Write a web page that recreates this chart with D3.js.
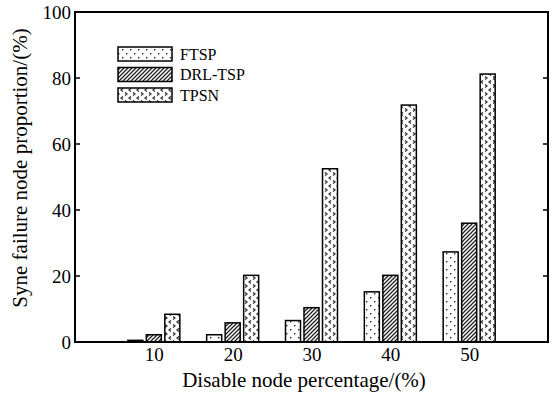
<!DOCTYPE html>
<html><head><meta charset="utf-8">
<script src="https://cdn.jsdelivr.net/npm/d3@7"></script>
<style>body{margin:0;background:#fff}svg{display:block}text{font-family:"Liberation Serif","Times New Roman",serif;fill:#000}</style>
</head><body><svg id="c" width="559" height="395"></svg>
<script>
const categories = [10, 20, 30, 40, 50];
const seriesNames = ["FTSP", "DRL-TSP", "TPSN"];
const ftsp = [0.5, 2.2, 6.5, 15.2, 27.3];
const drlTsp = [2.2, 5.8, 10.4, 20.2, 36.0];
const tpsn = [8.4, 20.2, 52.5, 71.8, 81.2];
const yTicks = [0, 20, 40, 60, 80, 100];
const xTicks = [10, 20, 30, 40, 50];
const seriesValues = [ftsp, drlTsp, tpsn];

const svg = d3.select("#c");
const m = {l: 75, t: 12, r: 548, b: 342};
const x = d3.scaleLinear().domain([0, 60]).range([m.l, m.r]);
const y = d3.scaleLinear().domain([0, 100]).range([m.b, m.t]);

const defs = svg.append("defs");
const p1 = defs.append("pattern").attr("id","pDots").attr("patternUnits","userSpaceOnUse").attr("width",8).attr("height",8);
p1.append("rect").attr("width",8).attr("height",8).attr("fill","#fff");
p1.append("rect").attr("x",2).attr("y",1).attr("width",1.4).attr("height",1.4).attr("fill","#222");
p1.append("rect").attr("x",6).attr("y",5).attr("width",1.4).attr("height",1.4).attr("fill","#222");
const p2 = defs.append("pattern").attr("id","pHatch").attr("patternUnits","userSpaceOnUse").attr("width",4).attr("height",4);
p2.append("rect").attr("width",4).attr("height",4).attr("fill","#fff");
p2.append("path").attr("d","M-1,1 L1,-1 M0,4 L4,0 M3,5 L5,3").attr("stroke","#222").attr("stroke-width",1.3);
const p3 = defs.append("pattern").attr("id","pChev").attr("patternUnits","userSpaceOnUse").attr("width",8).attr("height",8);
p3.append("rect").attr("width",8).attr("height",8).attr("fill","#fff");
p3.append("path").attr("d","M3,0.5 L1,2 L3,3.5").attr("stroke","#222").attr("stroke-width",1.2).attr("fill","none");
p3.append("path").attr("d","M5,4.5 L7,6 L5,7.5").attr("stroke","#222").attr("stroke-width",1.2).attr("fill","none");
const fills = ["url(#pDots)", "url(#pHatch)", "url(#pChev)"];

const bw = 15, off = 18.5;
seriesValues.forEach((vals, si) => {
  svg.append("g").selectAll("rect").data(vals).join("rect")
    .attr("x", (d, i) => x(categories[i]) + (si - 1) * off - bw / 2)
    .attr("y", d => y(d))
    .attr("width", bw)
    .attr("height", d => y(0) - y(d))
    .attr("fill", fills[si])
    .attr("stroke", "#000").attr("stroke-width", 1.5);
});

const left = svg.append("g").attr("transform", `translate(${m.l},0)`)
  .call(d3.axisLeft(y).tickValues(yTicks).tickSize(0).tickPadding(4));
left.select(".domain").remove();
left.selectAll("text").attr("font-size", 19).attr("font-family","Liberation Serif");
svg.append("g").selectAll("line").data(yTicks.slice(1, -1)).join("line")
  .attr("x1", m.l).attr("x2", m.l + 5).attr("y1", d => y(d)).attr("y2", d => y(d)).attr("stroke","#000").attr("stroke-width",1.5);
svg.append("g").selectAll("line").data(yTicks.slice(1, -1)).join("line")
  .attr("x1", m.r).attr("x2", m.r - 5).attr("y1", d => y(d)).attr("y2", d => y(d)).attr("stroke","#000").attr("stroke-width",1.5);

const bottom = svg.append("g").attr("transform", `translate(0,${m.b})`)
  .call(d3.axisBottom(x).tickValues(xTicks).tickSize(0).tickPadding(6));
bottom.select(".domain").remove();
bottom.selectAll("text").attr("font-size", 19).attr("font-family","Liberation Serif");

svg.append("rect").attr("x", m.l).attr("y", m.t).attr("width", m.r - m.l).attr("height", m.b - m.t)
  .attr("fill","none").attr("stroke","#000").attr("stroke-width",2);

svg.append("text").attr("x", 304).attr("y", 387).attr("text-anchor","middle")
  .attr("font-size", 21).text("Disable node percentage/(%)");
svg.append("text").attr("transform", `translate(27,168) rotate(-90)`).attr("text-anchor","middle")
  .attr("font-size", 21).text("Syne failure node proportion/(%)");

const lg = svg.append("g");
seriesNames.forEach((n, i) => {
  const yy = 47 + i * 20.5;
  lg.append("rect").attr("x", 118).attr("y", yy).attr("width", 54).attr("height", 14)
    .attr("fill", fills[i]).attr("stroke","#000").attr("stroke-width",1.5);
  lg.append("text").attr("x", 180).attr("y", yy + 12.5).attr("font-size", 16).text(n);
});
</script></body></html>
